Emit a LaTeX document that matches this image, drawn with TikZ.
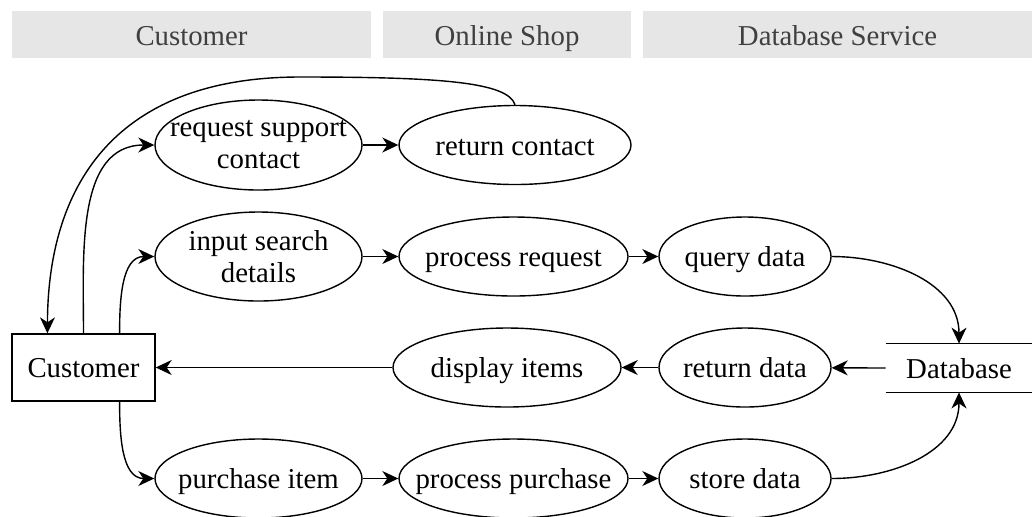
\documentclass[tikz,border=0pt]{standalone}
\usepackage{fontspec}
\setmainfont{Liberation Serif}
\usepackage{xcolor}
\usetikzlibrary{shapes.geometric, arrows.meta, positioning, calc}
\definecolor{lanegray}{HTML}{E6E6E6}
\definecolor{lanetext}{HTML}{404040}

\begin{document}
\begin{tikzpicture}[
    x=0.5pt, y=-0.5pt,
    every node/.style={font=\fontsize{14.4}{16}\selectfont, align=center},
    oneline/.style={text height=11.5pt, text depth=1.5pt},
    lane/.style={rectangle, fill=lanegray, text=lanetext, minimum height=23.5pt, inner sep=0pt, text height=12pt, text depth=1.5pt},
    proc/.style={ellipse, draw, line width=0.7pt, inner sep=-20pt, minimum height=39.5pt, minimum width=#1},
    ent/.style={rectangle, draw, line width=0.7pt, minimum width=71.5pt, minimum height=33.5pt, oneline},
    flow/.style={line width=0.7pt, -{Stealth[length=8pt, width=7.5pt, inset=2.5pt]}},
]
\useasboundingbox (0,0) rectangle (1032,516);

% swimlane headers
\node[lane, minimum width=179.5pt] (laneA) at (191.5,34.5) {Customer};
\node[lane, minimum width=124pt] (laneB) at (507,34.5) {Online Shop};
\node[lane, minimum width=194.5pt] (laneC) at (837.5,34.5) {Database Service};

% external entity and data store
\node[ent] (cust) at (83.5,367.5) {Customer};
\node[minimum width=73pt, minimum height=24pt, inner sep=0pt, oneline] (db) at (959,368) {Database};
\draw[line width=0.7pt] (db.north west) -- (db.north east);
\draw[line width=0.7pt] (db.south west) -- (db.south east);

% processes
\node[proc=103.5pt, minimum height=45pt] (reqsup) at (258.5,145) {request support\\contact};
\node[proc=116pt, oneline] (retcon) at (515,145) {return contact};
\node[proc=103.5pt, minimum height=44.5pt] (search) at (258.5,256.5) {input search\\details};
\node[proc=114.5pt, oneline] (procreq) at (513.5,256.5) {process request};
\node[proc=86pt, oneline] (query) at (745,256.5) {query data};
\node[proc=114pt, oneline] (display) at (507,367.5) {display items};
\node[proc=86pt, oneline] (retdata) at (745,367.5) {return data};
\node[proc=103.5pt, oneline] (purch) at (258.5,478.5) {purchase item};
\node[proc=114.5pt, oneline] (procpur) at (513.5,478.5) {process purchase};
\node[proc=86pt, oneline] (store) at (745,478.5) {store data};

% connectors
\coordinate (custA) at ($(cust.north west)!0.25!(cust.north east)$);
\coordinate (custB) at (cust.north);
\coordinate (custC) at ($(cust.north west)!0.75!(cust.north east)$);
\coordinate (custD) at ($(cust.south west)!0.75!(cust.south east)$);
\coordinate (loopTop) at (300,77);

\draw[flow] (retcon.north) .. controls (508,82) and (440,77) .. (loopTop)
    .. controls (120,77) and (48,180) .. (custA);
\draw[flow] (custB) to[out=90, in=180] (reqsup.west);
\draw[flow] (custC) to[out=90, in=180] (search.west);
\draw[flow] (custD) to[out=-90, in=180] (purch.west);

\draw[flow] (reqsup) -- (retcon);
\draw[flow] (search) -- (procreq);
\draw[flow] (procreq) -- (query);
\draw[flow] (query.east) to[out=0, in=90] (db.north);

\draw[flow] (db.west) -- (retdata);
\draw[flow] (retdata) -- (display);
\draw[flow] (display) -- (cust);

\draw[flow] (purch) -- (procpur);
\draw[flow] (procpur) -- (store);
\draw[flow] (store.east) to[out=0, in=-90] (db.south);

\end{tikzpicture}
\end{document}
